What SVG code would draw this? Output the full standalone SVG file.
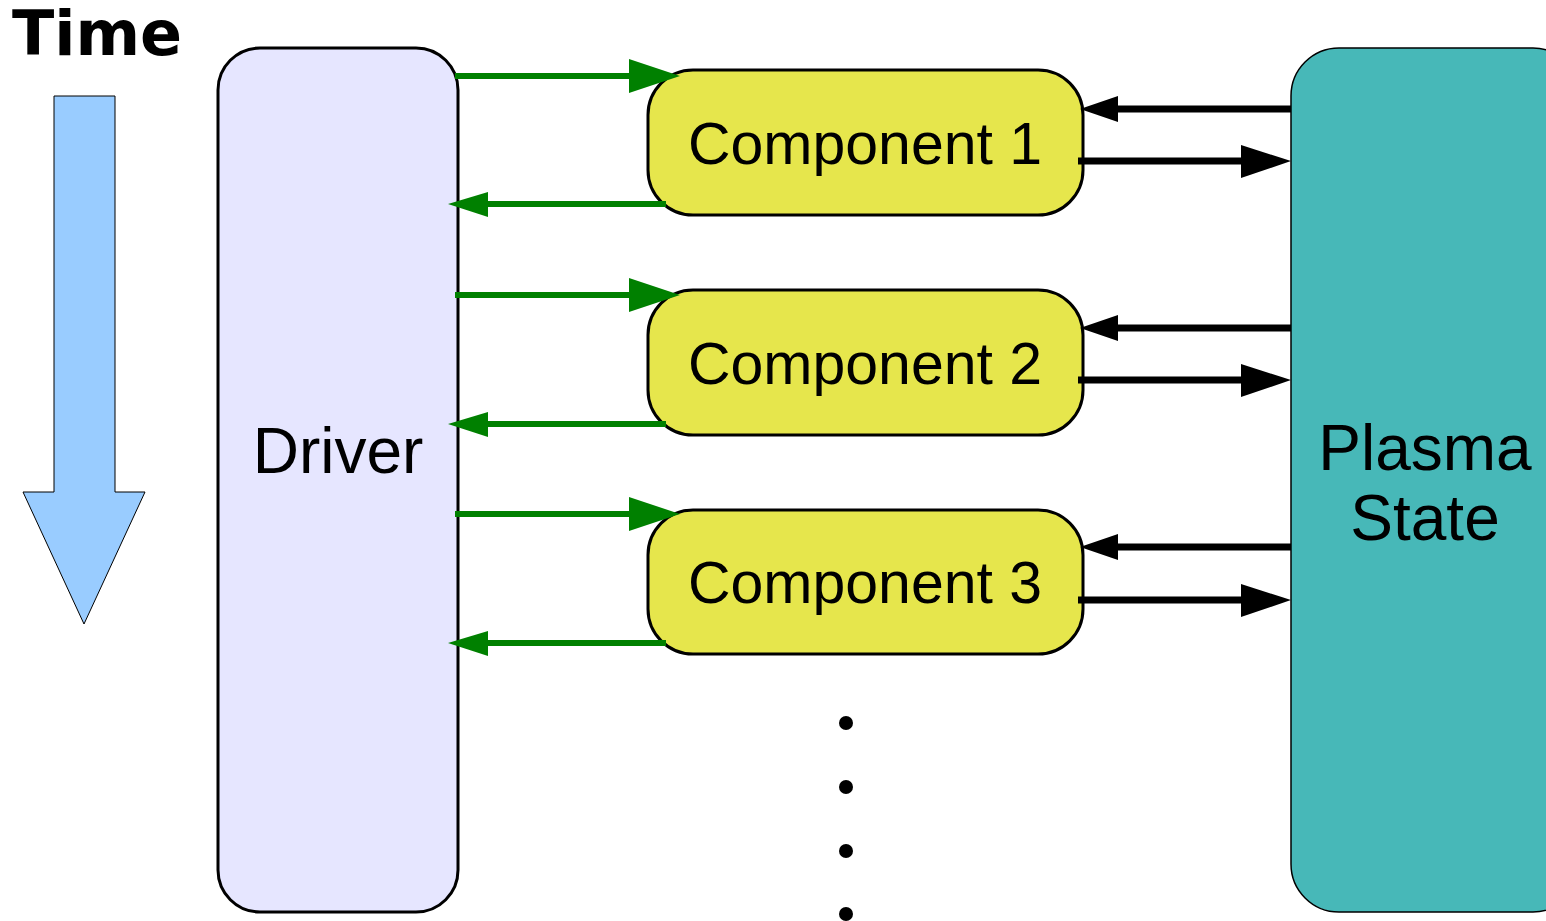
<svg xmlns="http://www.w3.org/2000/svg" width="1546" height="921" viewBox="0 0 1546 921">
  <style>
    .lbl { font-family: "Liberation Sans", Arial, sans-serif; fill: #000; text-anchor: middle; }
    .comp { fill: #e6e64c; stroke: #000; stroke-width: 3; }
    .g { stroke: #008000; stroke-width: 6; fill: none; }
    .gh { fill: #008000; }
    .k { stroke: #000; stroke-width: 7; fill: none; }
    .kh { fill: #000; }
  </style>
  <rect width="1546" height="921" fill="#fff"/>

  <!-- time indicator -->
  <g id="time">
    <text x="97" y="55" font-family="DejaVu Sans, sans-serif" font-weight="bold" font-size="62" text-anchor="middle">Time</text>
    <polygon points="54,96 115,96 115,492 145,492 84,624 23,492 54,492" fill="#99ccff" stroke="#000" stroke-width="1"/>
  </g>

  <!-- driver -->
  <g id="driver">
    <rect x="218" y="48" width="240" height="864" rx="42" fill="#e6e6ff" stroke="#000" stroke-width="3"/>
    <text class="lbl" x="338" y="473" font-size="64">Driver</text>
  </g>

  <!-- plasma state -->
  <g id="plasma-state">
    <rect x="1291" y="48" width="290" height="864" rx="48" fill="#47b8b8" stroke="#000" stroke-width="1.5"/>
    <text class="lbl" x="1425" y="470" font-size="64">Plasma</text>
    <text class="lbl" x="1425" y="540" font-size="64">State</text>
  </g>

  <!-- components -->
  <g id="component-1">
    <rect class="comp" x="648" y="70" width="435" height="145" rx="45"/>
    <text class="lbl" x="865" y="164" font-size="59">Component 1</text>
  </g>
  <g id="component-2">
    <rect class="comp" x="648" y="290" width="435" height="145" rx="45"/>
    <text class="lbl" x="865" y="384" font-size="59">Component 2</text>
  </g>
  <g id="component-3">
    <rect class="comp" x="648" y="510" width="435" height="144" rx="45"/>
    <text class="lbl" x="865" y="603" font-size="59">Component 3</text>
  </g>

  <!-- continuation dots -->
  <g id="more">
    <circle cx="846" cy="723" r="7"/>
    <circle cx="846" cy="787" r="7"/>
    <circle cx="846" cy="851" r="7"/>
    <circle cx="846" cy="914" r="7"/>
  </g>

  <!-- connectors -->
  <g id="connectors">
    <!-- driver <-> component 1 -->
    <line class="g" x1="455" y1="76" x2="632" y2="76"/>
    <polygon class="gh" points="629,59 680,76 629,93"/>
    <line class="g" x1="666" y1="204" x2="485" y2="204"/>
    <polygon class="gh" points="488,192 448,204 488,217"/>
    <!-- driver <-> component 2 -->
    <line class="g" x1="455" y1="295" x2="632" y2="295"/>
    <polygon class="gh" points="629,278 680,295 629,312"/>
    <line class="g" x1="666" y1="424" x2="485" y2="424"/>
    <polygon class="gh" points="488,412 448,424 488,437"/>
    <!-- driver <-> component 3 -->
    <line class="g" x1="455" y1="514" x2="632" y2="514"/>
    <polygon class="gh" points="629,497 680,514 629,531"/>
    <line class="g" x1="666" y1="643" x2="485" y2="643"/>
    <polygon class="gh" points="488,631 448,643 488,656"/>

    <!-- component 1 <-> plasma state -->
    <line class="k" x1="1291" y1="109" x2="1115" y2="109"/>
    <polygon class="kh" points="1118,96 1080,109 1118,122"/>
    <line class="k" x1="1078" y1="161" x2="1244" y2="161"/>
    <polygon class="kh" points="1241,145 1291,161 1241,178"/>
    <!-- component 2 <-> plasma state -->
    <line class="k" x1="1291" y1="328" x2="1115" y2="328"/>
    <polygon class="kh" points="1118,315 1080,328 1118,341"/>
    <line class="k" x1="1078" y1="380" x2="1244" y2="380"/>
    <polygon class="kh" points="1241,364 1291,380 1241,397"/>
    <!-- component 3 <-> plasma state -->
    <line class="k" x1="1291" y1="547" x2="1115" y2="547"/>
    <polygon class="kh" points="1118,534 1080,547 1118,560"/>
    <line class="k" x1="1078" y1="600" x2="1244" y2="600"/>
    <polygon class="kh" points="1241,584 1291,600 1241,617"/>
  </g>
</svg>
